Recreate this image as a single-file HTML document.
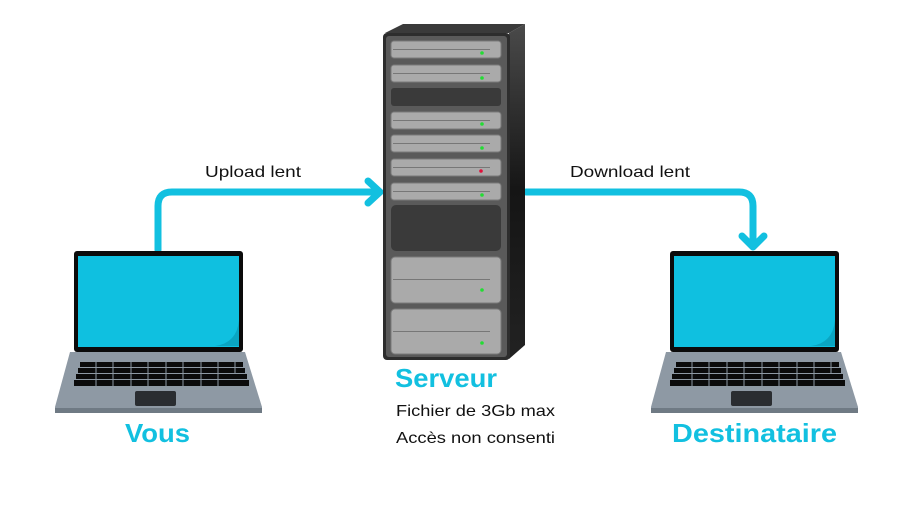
<!DOCTYPE html>
<html><head><meta charset="utf-8"><style>
html,body{margin:0;padding:0;background:#fff;}
svg{display:block;font-family:"Liberation Sans",sans-serif;}
</style></head><body>
<svg width="918" height="516" viewBox="0 0 918 516" xmlns="http://www.w3.org/2000/svg">
<defs>
<linearGradient id="sg" x1="0" y1="0" x2="0" y2="1">
  <stop offset="0" stop-color="#4a4a4a"/><stop offset="0.5" stop-color="#151515"/><stop offset="1" stop-color="#222"/>
</linearGradient>
<g id="laptop">
  <path d="M70 352 L245 352 L262 407 L262 413 L55 413 L55 407 Z" fill="#8e99a4"/>
  <rect x="55" y="408" width="207" height="5" fill="#6f7a84"/>
  <rect x="74" y="251" width="169" height="101" rx="3" fill="#0b0b0b"/>
  <rect x="78" y="256" width="161" height="91" fill="#0fc0e0"/>
  <path d="M239 320 Q237 343 215 346 L239 346 Z" fill="#0aa5c2"/>
  <g fill="#0b0b0b">
    <rect x="80" y="362" width="163" height="5"/>
    <rect x="78" y="368" width="167" height="5"/>
    <rect x="76" y="374" width="171" height="5"/>
    <rect x="74" y="380" width="175" height="6"/>
  </g>
  <g stroke="#8e99a4" stroke-width="1">
    <path d="M96 362v24M113 362v24M131 362v24M148 362v24M166 362v24M183 362v24M201 362v24M218 362v24M235 362v12"/>
  </g>
  <rect x="135" y="391" width="41" height="15" rx="2" fill="#2a2d31"/>
</g>
</defs>

<g fill="none" stroke="#12c0e0" stroke-width="7" stroke-linecap="round" stroke-linejoin="round">
  <path d="M158 250 V206 Q158 192 172 192 H379"/>
  <path d="M368 181 L380 192 L368 203"/>
  <path d="M526 192 H739 Q753 192 753 206 V246"/>
  <path d="M742 236 L753 247 L764 236"/>
</g>

<use href="#laptop"/>
<use href="#laptop" transform="translate(596,0)"/>

<path d="M385 33 L403 24 L525 24 L509 33 Z" fill="#3a3a3a"/>
<path d="M509 33 L525 24 L525 345 L509 359 Z" fill="url(#sg)"/>
<rect x="383" y="33" width="127" height="327" rx="4" fill="#2d2d2d"/>
<rect x="386" y="36" width="121" height="321" rx="3" fill="#5a5a5a"/>
<g fill="#aaaaaa" stroke="#7a7a7a" stroke-width="1">
  <rect x="391" y="41" width="110" height="17" rx="3"/>
  <rect x="391" y="65" width="110" height="17" rx="3"/>
  <rect x="391" y="112" width="110" height="17" rx="3"/>
  <rect x="391" y="135" width="110" height="17" rx="3"/>
  <rect x="391" y="159" width="110" height="17" rx="3"/>
  <rect x="391" y="183" width="110" height="17" rx="3"/>
  <rect x="391" y="257" width="110" height="46" rx="4"/>
  <rect x="391" y="309" width="110" height="45" rx="4"/>
</g>
<g fill="#3a3a3a">
  <rect x="391" y="88" width="110" height="18" rx="3"/>
  <rect x="391" y="205" width="110" height="46" rx="5"/>
</g>
<g stroke="#777" stroke-width="1">
  <path d="M393 49.5H490M393 73.5H490M393 120.5H490M393 143.5H490M393 167.5H490M393 191.5H490M393 279.5H490M393 331.5H490"/>
</g>
<g fill="#22dd33">
  <circle cx="482" cy="53" r="1.8"/><circle cx="482" cy="78" r="1.8"/>
  <circle cx="482" cy="124" r="1.8"/><circle cx="482" cy="148" r="1.8"/>
  <circle cx="482" cy="195" r="1.8"/><circle cx="482" cy="290" r="1.8"/>
  <circle cx="482" cy="343" r="1.8"/>
</g>
<circle cx="481" cy="171" r="1.8" fill="#e0103a"/>

<g font-size="16" fill="#111">
  <text x="205" y="177" textLength="96" lengthAdjust="spacingAndGlyphs">Upload lent</text>
  <text x="570" y="177" textLength="120" lengthAdjust="spacingAndGlyphs">Download lent</text>
  <text x="396" y="416" textLength="159" lengthAdjust="spacingAndGlyphs">Fichier de 3Gb max</text>
  <text x="396" y="443" textLength="159" lengthAdjust="spacingAndGlyphs">Accès non consenti</text>
</g>
<g font-size="26" font-weight="bold" fill="#12c0e0">
  <text x="395" y="387" textLength="102" lengthAdjust="spacingAndGlyphs">Serveur</text>
  <text x="125" y="442" textLength="65" lengthAdjust="spacingAndGlyphs">Vous</text>
  <text x="672" y="442" textLength="165" lengthAdjust="spacingAndGlyphs">Destinataire</text>
</g>
</svg>
</body></html>
